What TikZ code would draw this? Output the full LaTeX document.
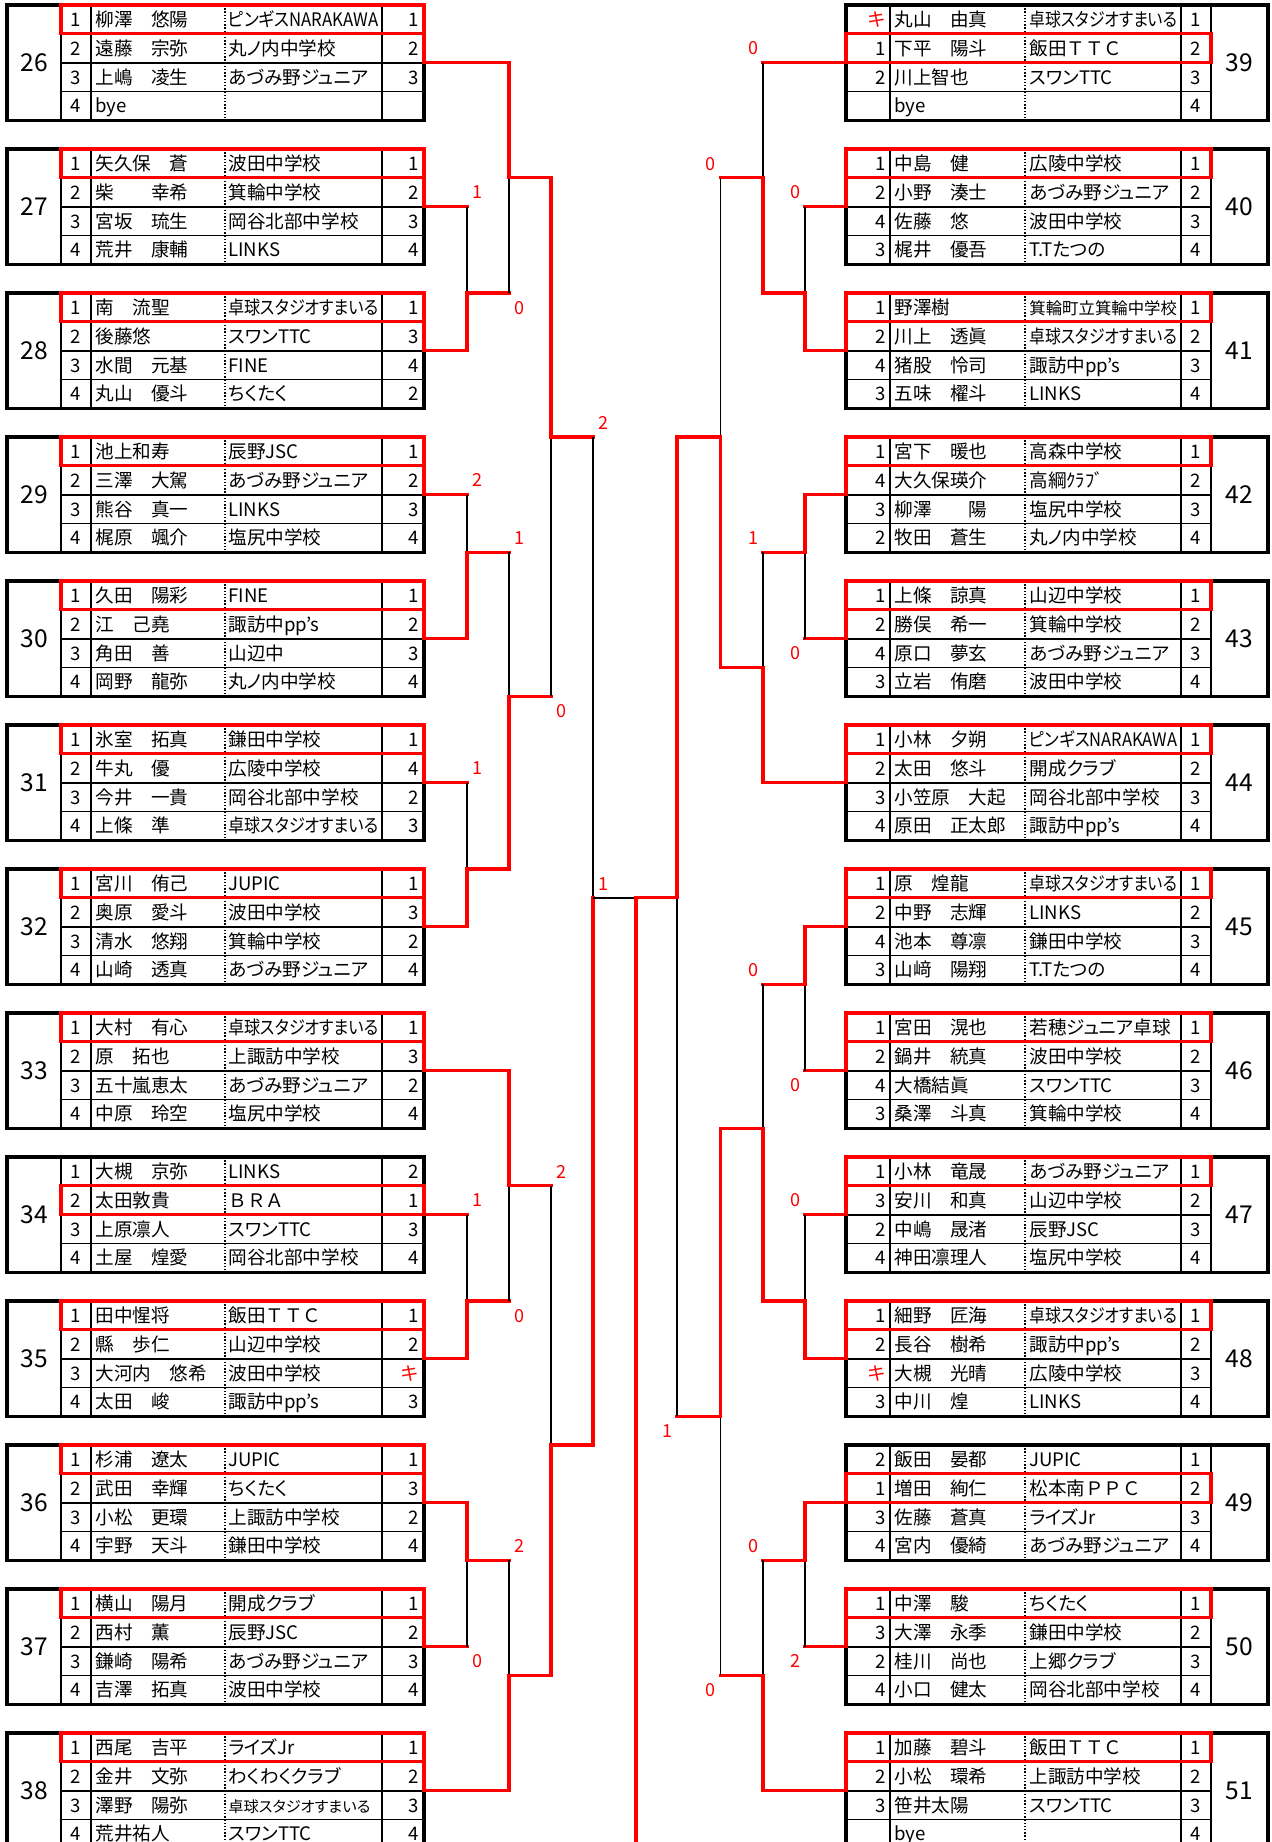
\documentclass[tikz,border=0pt]{standalone}
\usepackage{fontspec}
\setmainfont{Noto Sans CJK JP}[RawFeature={+palt}]
\newfontfamily\wide{Noto Sans CJK JP}
\usepackage{graphicx}

\pgfmathdeclarefunction{rowy}{1}{\pgfmathparse{5+28.8*#1}}
\newsavebox\cellbox
\newcommand{\fitw}[2]{\sbox\cellbox{#2}\ifdim\wd\cellbox>#1\relax\resizebox{#1}{\height}{\usebox\cellbox}\else\usebox\cellbox\fi}
\newcommand{\kiken}{\textcolor{red}{キ}}
\newcommand{\feed}[3]{\draw[adv] (#1) -- (#1 -| #2); \draw[#3] (#1 -| #2) -- (#2);}

\begin{document}
\begin{tikzpicture}[x=0.5pt, y=-0.5pt,
  font=\fontsize{9.3}{10}\selectfont,
  cell/.style={inner sep=0pt, text height=7.5pt, text depth=0.5pt},
  gnum/.style={inner sep=0pt, font=\fontsize{12.3}{13}\selectfont, text height=9pt, text depth=0pt},
  boxline/.style={line width=1.7pt},
  rowline/.style={line width=0.9pt},
  dotline/.style={line width=0.8pt, dash pattern=on 0.7pt off 0.9pt},
  pick/.style={draw=red, line width=1.6pt},
  adv/.style={draw=red, line width=1.6pt, line cap=rect},
  lose/.style={draw=black, line width=0.8pt},
  score/.style={inner sep=0pt, text=red, font=\fontsize{9}{9}\selectfont, text height=6.6pt, text depth=0pt}
]
\useasboundingbox (0,0) rectangle (1271,1842);
\clip (0,0) rectangle (1271,1842);

\foreach \k/\g/\w in {0/26/0,1/27/0,2/28/0,3/29/0,4/30/0,5/31/0,6/32/0,7/33/0,8/34/1,9/35/0,10/36/0,11/37/0,12/38/0}{
  \pgfmathsetmacro\ytop{rowy(5*\k)}
  \pgfmathsetmacro\ybot{rowy(5*\k+4)}
  \foreach \i in {1,2,3} \draw[rowline] (61,{rowy(5*\k+\i)}) -- (424,{rowy(5*\k+\i)});
  \foreach \xx in {61,91,382} \draw[rowline] (\xx,\ytop) -- (\xx,\ybot);
  \draw[dotline] (225,\ytop) -- (225,\ybot);
  \draw[boxline] (7,\ytop) rectangle (424,\ybot);
  \node[gnum] (lg\g) at (34,{rowy(5*\k+2)}) {\g};
  \draw[pick] (61,{rowy(5*\k+\w)}) rectangle (424,{rowy(5*\k+\w+1)});
  \coordinate (g\g) at (424,{rowy(5*\k+2)});
  \draw[adv] (424,{rowy(5*\k+\w+1)}) -- (g\g);
}

\foreach \k/\g/\w in {0/39/1,1/40/0,2/41/0,3/42/0,4/43/0,5/44/0,6/45/0,7/46/0,8/47/0,9/48/0,10/49/1,11/50/0,12/51/0}{
  \pgfmathsetmacro\ytop{rowy(5*\k)}
  \pgfmathsetmacro\ybot{rowy(5*\k+4)}
  \foreach \i in {1,2,3} \draw[rowline] (846,{rowy(5*\k+\i)}) -- (1211,{rowy(5*\k+\i)});
  \foreach \xx in {890,1181,1211} \draw[rowline] (\xx,\ytop) -- (\xx,\ybot);
  \draw[dotline] (1025,\ytop) -- (1025,\ybot);
  \draw[boxline] (846,\ytop) rectangle (1268,\ybot);
  \node[gnum] (rg\g) at (1239.5,{rowy(5*\k+2)}) {\g};
  \draw[pick] (846,{rowy(5*\k+\w)}) rectangle (1211,{rowy(5*\k+\w+1)});
  \coordinate (g\g) at (846,{rowy(5*\k+2)});
  \draw[adv] (846,{rowy(5*\k+\w+1)}) -- (g\g);
}

\foreach \rw/\sd/\nm/\tm/\rk in {0/1/柳澤　悠陽/ピンギスNARAKAWA/1,
  1/2/遠藤　宗弥/丸ノ内中学校/2, 2/3/上嶋　凌生/あづみ野ジュニア/3, 3/4/bye/{}/{},
  5/1/矢久保　蒼/波田中学校/1, 6/2/柴　　幸希/箕輪中学校/2, 7/3/宮坂　琉生/岡谷北部中学校/3, 8/4/荒井　康輔/LINKS/4,
  10/1/南　流聖/卓球スタジオすまいる/1, 11/2/後藤悠/スワンTTC/3, 12/3/水間　元基/FINE/4, 13/4/丸山　優斗/ちくたく/2,
  15/1/池上和寿/辰野JSC/1, 16/2/三澤　大駕/あづみ野ジュニア/2, 17/3/熊谷　真一/LINKS/3, 18/4/梶原　颯介/塩尻中学校/4,
  20/1/久田　陽彩/FINE/1, 21/2/江　己堯/諏訪中pp's/2, 22/3/角田　善/山辺中/3, 23/4/岡野　龍弥/丸ノ内中学校/4,
  25/1/氷室　拓真/鎌田中学校/1, 26/2/牛丸　優/広陵中学校/4, 27/3/今井　一貴/岡谷北部中学校/2, 28/4/上條　準/卓球スタジオすまいる/3,
  30/1/宮川　侑己/JUPIC/1, 31/2/奥原　愛斗/波田中学校/3, 32/3/清水　悠翔/箕輪中学校/2, 33/4/山崎　透真/あづみ野ジュニア/4,
  35/1/大村　有心/卓球スタジオすまいる/1, 36/2/原　拓也/上諏訪中学校/3, 37/3/五十嵐恵太/あづみ野ジュニア/2, 38/4/中原　玲空/塩尻中学校/4,
  40/1/大槻　京弥/LINKS/2, 41/2/太田敦貴/{\wide ＢＲＡ}/1, 42/3/上原凛人/スワンTTC/3, 43/4/土屋　煌愛/岡谷北部中学校/4,
  45/1/田中惺将/{\wide 飯田ＴＴＣ}/1, 46/2/縣　歩仁/山辺中学校/2, 47/3/大河内　悠希/波田中学校/\kiken, 48/4/太田　峻/諏訪中pp's/3,
  50/1/杉浦　遼太/JUPIC/1, 51/2/武田　幸輝/ちくたく/3, 52/3/小松　更環/上諏訪中学校/2, 53/4/宇野　天斗/鎌田中学校/4,
  55/1/横山　陽月/開成クラブ/1, 56/2/西村　薫/辰野JSC/2, 57/3/鎌崎　陽希/あづみ野ジュニア/3, 58/4/吉澤　拓真/波田中学校/4,
  60/1/西尾　吉平/ライズJr/1, 61/2/金井　文弥/わくわくクラブ/2, 62/3/澤野　陽弥/{\fontsize{7.6}{8}\selectfont 卓球スタジオすまいる}/3, 63/4/荒井祐人/スワンTTC/4}{
  \pgfmathsetmacro\ym{rowy(\rw+0.5)}
  \node[cell] (ls\rw) at (76,\ym) {\sd};
  \node[cell, anchor=west] (ln\rw) at (95,\ym) {\nm};
  \node[cell, anchor=west] (lt\rw) at (228,\ym) {\fitw{75pt}{\tm}};
  \node[cell, anchor=east] (lr\rw) at (419,\ym) {\rk};
}

\foreach \rw/\sd/\nm/\tm/\rk in {0/\kiken/丸山　由真/卓球スタジオすまいる/1,
  1/1/下平　陽斗/{\wide 飯田ＴＴＣ}/2, 2/2/川上智也/スワンTTC/3, 3/{}/bye/{}/4,
  5/1/中島　健/広陵中学校/1, 6/2/小野　湊士/あづみ野ジュニア/2, 7/4/佐藤　悠/波田中学校/3, 8/3/梶井　優吾/T.Tたつの/4,
  10/1/野澤樹/{\fontsize{8.2}{9}\selectfont 箕輪町立箕輪中学校}/1, 11/2/川上　透眞/卓球スタジオすまいる/2, 12/4/猪股　怜司/諏訪中pp's/3, 13/3/五味　櫂斗/LINKS/4,
  15/1/宮下　暖也/高森中学校/1, 16/4/大久保瑛介/高綱ｸﾗﾌﾞ/2, 17/3/柳澤　　陽/塩尻中学校/3, 18/2/牧田　蒼生/丸ノ内中学校/4,
  20/1/上條　諒真/山辺中学校/1, 21/2/勝俣　希一/箕輪中学校/2, 22/4/原口　夢玄/あづみ野ジュニア/3, 23/3/立岩　侑磨/波田中学校/4,
  25/1/小林　夕朔/ピンギスNARAKAWA/1, 26/2/太田　悠斗/開成クラブ/2, 27/3/小笠原　大起/岡谷北部中学校/3, 28/4/原田　正太郎/諏訪中pp's/4,
  30/1/原　煌龍/卓球スタジオすまいる/1, 31/2/中野　志輝/LINKS/2, 32/4/池本　尊凛/鎌田中学校/3, 33/3/山﨑　陽翔/T.Tたつの/4,
  35/1/宮田　滉也/若穂ジュニア卓球/1, 36/2/鍋井　統真/波田中学校/2, 37/4/大橋結眞/スワンTTC/3, 38/3/桑澤　斗真/箕輪中学校/4,
  40/1/小林　竜晟/あづみ野ジュニア/1, 41/3/安川　和真/山辺中学校/2, 42/2/中嶋　晟渚/辰野JSC/3, 43/4/神田凛理人/塩尻中学校/4,
  45/1/細野　匠海/卓球スタジオすまいる/1, 46/2/長谷　樹希/諏訪中pp's/2, 47/\kiken/大槻　光晴/広陵中学校/3, 48/3/中川　煌/LINKS/4,
  50/2/飯田　晏都/JUPIC/1, 51/1/増田　絢仁/{\wide 松本南ＰＰＣ}/2, 52/3/佐藤　蒼真/ライズJr/3, 53/4/宮内　優綺/あづみ野ジュニア/4,
  55/1/中澤　駿/ちくたく/1, 56/3/大澤　永季/鎌田中学校/2, 57/2/桂川　尚也/上郷クラブ/3, 58/4/小口　健太/岡谷北部中学校/4,
  60/1/加藤　碧斗/{\wide 飯田ＴＴＣ}/1, 61/2/小松　環希/上諏訪中学校/2, 62/3/笹井太陽/スワンTTC/3, 63/{}/bye/{}/4}{
  \pgfmathsetmacro\ym{rowy(\rw+0.5)}
  \node[cell, anchor=east] (rs\rw) at (886,\ym) {\sd};
  \node[cell, anchor=west] (rn\rw) at (894,\ym) {\nm};
  \node[cell, anchor=west] (rt\rw) at (1029,\ym) {\fitw{74pt}{\tm}};
  \node[cell] (rr\rw) at (1196,\ym) {\rk};
}

\coordinate (mA) at (467,{rowy(10)});
\coordinate (mB) at (509,{rowy(6)});
\coordinate (mC) at (467,{rowy(19)});
\coordinate (mD) at (467,{rowy(30)});
\coordinate (mE) at (509,{rowy(24)});
\coordinate (mF) at (551,{rowy(15)});
\coordinate (mG) at (467,{rowy(45)});
\coordinate (mH) at (509,{rowy(41)});
\coordinate (mI) at (467,{rowy(54)});
\coordinate (mJ) at (509,{rowy(58)});
\coordinate (mK) at (551,{rowy(50)});
\coordinate (mL) at (593,{rowy(31)});
\coordinate (mN) at (805,{rowy(10)});
\coordinate (mO) at (763,{rowy(6)});
\coordinate (mP) at (805,{rowy(19)});
\coordinate (mQ) at (763,{rowy(23)});
\coordinate (mR) at (720.5,{rowy(15)});
\coordinate (mS) at (805,{rowy(34)});
\coordinate (mT) at (805,{rowy(45)});
\coordinate (mU) at (763,{rowy(39)});
\coordinate (mV) at (805,{rowy(54)});
\coordinate (mW) at (763,{rowy(58)});
\coordinate (mX) at (720.5,{rowy(49)});
\coordinate (mY) at (677,{rowy(31)});
\coordinate (fin) at (636,{rowy(31)});
\coordinate (bot) at (636,1850);

\feed{g27}{mA}{lose} \feed{g28}{mA}{adv}
\feed{mA}{mB}{lose} \feed{g26}{mB}{adv}
\feed{g29}{mC}{lose} \feed{g30}{mC}{adv}
\feed{g31}{mD}{lose} \feed{g32}{mD}{adv}
\feed{mC}{mE}{lose} \feed{mD}{mE}{adv}
\feed{mE}{mF}{lose} \feed{mB}{mF}{adv}
\feed{g34}{mG}{lose} \feed{g35}{mG}{adv}
\feed{mG}{mH}{lose} \feed{g33}{mH}{adv}
\feed{g37}{mI}{lose} \feed{g36}{mI}{adv}
\feed{mI}{mJ}{lose} \feed{g38}{mJ}{adv}
\feed{mH}{mK}{lose} \feed{mJ}{mK}{adv}
\feed{mF}{mL}{lose} \feed{mK}{mL}{adv}

\feed{g40}{mN}{lose} \feed{g41}{mN}{adv}
\feed{g39}{mO}{lose} \feed{mN}{mO}{adv}
\feed{g43}{mP}{lose} \feed{g42}{mP}{adv}
\feed{mP}{mQ}{lose} \feed{g44}{mQ}{adv}
\feed{mO}{mR}{lose} \feed{mQ}{mR}{adv}
\feed{g46}{mS}{lose} \feed{g45}{mS}{adv}
\feed{g47}{mT}{lose} \feed{g48}{mT}{adv}
\feed{mS}{mU}{lose} \feed{mT}{mU}{adv}
\feed{g50}{mV}{lose} \feed{g49}{mV}{adv}
\feed{mV}{mW}{lose} \feed{g51}{mW}{adv}
\feed{mW}{mX}{lose} \feed{mU}{mX}{adv}
\feed{mX}{mY}{lose} \feed{mR}{mY}{adv}

\draw[lose] (mL) -- (fin);
\draw[adv] (mY) -- (fin);
\draw[adv] (fin) -- (bot);

\node[score] (sA) at (477,{rowy(6.5)}) {1};
\node[score] (sB) at (519,{rowy(10.5)}) {0};
\node[score] (sL) at (603,{rowy(14.5)}) {2};
\node[score] (sC) at (477,{rowy(16.5)}) {2};
\node[score] (sE) at (519,{rowy(18.5)}) {1};
\node[score] (sF) at (561,{rowy(24.5)}) {0};
\node[score] (sD) at (477,{rowy(26.5)}) {1};
\node[score] (sM) at (603,{rowy(30.5)}) {1};
\node[score] (sK) at (561,{rowy(40.5)}) {2};
\node[score] (sG) at (477,{rowy(41.5)}) {1};
\node[score] (sH) at (519,{rowy(45.5)}) {0};
\node[score] (sJ) at (519,{rowy(53.5)}) {2};
\node[score] (sI) at (477,{rowy(57.5)}) {0};

\node[score] (sO) at (753,{rowy(1.5)}) {0};
\node[score] (sR) at (710.5,{rowy(5.5)}) {0};
\node[score] (sN) at (795,{rowy(6.5)}) {0};
\node[score] (sQ) at (753,{rowy(18.5)}) {1};
\node[score] (sP) at (795,{rowy(22.5)}) {0};
\node[score] (sU) at (753,{rowy(33.5)}) {0};
\node[score] (sS) at (795,{rowy(37.5)}) {0};
\node[score] (sT) at (795,{rowy(41.5)}) {0};
\node[score] (sY) at (667,{rowy(49.5)}) {1};
\node[score] (sW) at (753,{rowy(53.5)}) {0};
\node[score] (sV) at (795,{rowy(57.5)}) {2};
\node[score] (sX) at (710.5,{rowy(58.5)}) {0};
\end{tikzpicture}
\end{document}
